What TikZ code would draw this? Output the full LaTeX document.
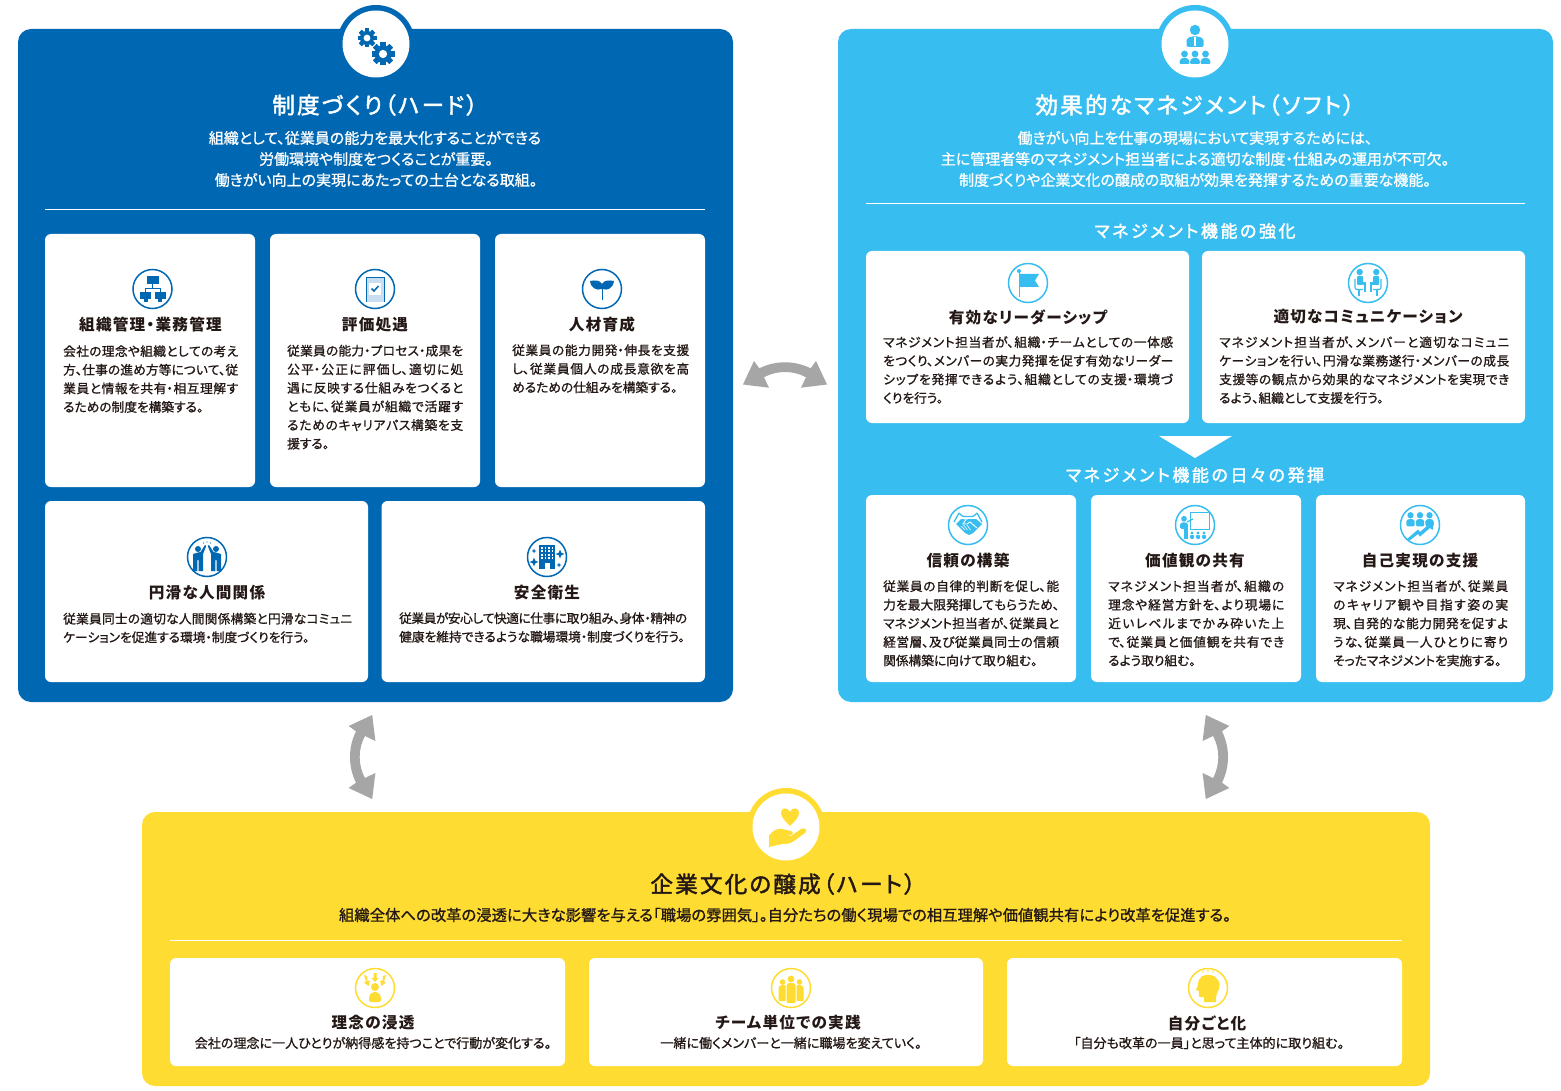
\documentclass[tikz,border=0pt]{standalone}
\usepackage{fontspec}
\setmainfont{Noto Sans CJK JP}[RawFeature=+palt]
\newfontfamily\medf{Noto Sans CJK JP}[RawFeature=+palt,FakeBold=1.0]
\newfontfamily\titf{Noto Sans CJK JP}[RawFeature=+palt,FakeBold=2.0,LetterSpace=10]
\newfontfamily\headf{Noto Sans CJK JP}[RawFeature=+palt,FakeBold=2.0,LetterSpace=15]
\newfontfamily\capf{Noto Sans CJK JP}[RawFeature=+palt,LetterSpace=8]
\XeTeXlinebreaklocale "ja"
\XeTeXlinebreakskip=0pt plus 3pt minus 0.6pt
\tolerance=9999
\emergencystretch=2pt
\definecolor{hardc}{HTML}{0068B3}
\definecolor{softc}{HTML}{38BDF0}
\definecolor{heartc}{HTML}{FFDC32}
\definecolor{inkc}{HTML}{231815}
\definecolor{arrowc}{HTML}{A6A6A6}
\definecolor{paperc}{HTML}{C9DDF0}
\tikzset{
  panelbox/.style={inner sep=0pt,rounded corners=13pt,draw=none},
  cardbox/.style={inner sep=0pt,rounded corners=6pt,fill=white,draw=none},
  ringbox/.style={circle,draw=#1,line width=1.5pt,minimum size=39pt,inner sep=0pt,fill=white},
  tabouter/.style={circle,fill=#1,minimum size=78pt,inner sep=0pt},
  tabinner/.style={circle,fill=white,minimum size=67pt,inner sep=0pt},
  bigtitle/.style={anchor=center,inner sep=0pt,font=\fontsize{22.5}{25}\titf},
  leadtext/.style={anchor=center,inner sep=0pt,font=\fontsize{15}{18}\medf},
  sectiontitle/.style={anchor=center,inner sep=0pt,text=white,font=\fontsize{17}{20}\headf},
  cardtitle/.style={anchor=center,inner sep=0pt,text=inkc,font=\fontsize{15.6}{19}\capf\bfseries},
  bodytext/.style={anchor=north west,inner sep=0pt,text=inkc,align=justify,
     font=\fontsize{12.7}{18.6}\medf},
  smalltext/.style={anchor=center,inner sep=0pt,text=inkc,font=\fontsize{13.05}{16}\medf},
  rulew/.style={draw=white,line width=0.8pt},
}
\newcommand\bstart{\rule{0pt}{11pt}}
\newcommand\LB{\linebreak}
% name x1 y1 x2 y2
\newcommand\cardnode[5]{\node[cardbox,minimum width={(#4-#2)*1pt},minimum height={(#5-#3)*1pt}] (#1) at ({(#2+#4)/2},{(#3+#5)/2}) {};}
\newcommand\panelnode[6]{\node[panelbox,fill=#6,minimum width={(#4-#2)*1pt},minimum height={(#5-#3)*1pt}] (#1) at ({(#2+#4)/2},{(#3+#5)/2}) {};}
% name x y-first width text
\newcommand\bodynode[5]{\node[bodytext,text width=#4pt] (#1) at (#2,{#3-6.2}) {\bstart #5\par};}
\newcommand\pers[3]{\begin{scope}[shift={(#1,#2)},scale=#3]
  \fill (0,-5.5) circle (3);
  \fill[rounded corners=1.2pt] (-4,5) -- (-4,-0.6) -- (-2,-1.8) -- (2,-1.8) -- (4,-0.6) -- (4,5) -- cycle;
\end{scope}}
\newcommand\gearshape[3]{\begin{scope}[shift={(#1,#2)},scale=#3]
  \foreach \a in {0,45,...,315}{\fill[rotate=\a] (-0.22,-1) rectangle (0.22,1);}
  \fill (0,0) circle (0.74);
  \fill[white] (0,0) circle (0.36);
\end{scope}}
\newcommand\sparkle[3]{\fill (#1,{#2-#3}) -- ({#1+0.28*#3},{#2-0.28*#3}) -- ({#1+#3},#2) -- ({#1+0.28*#3},{#2+0.28*#3}) -- (#1,{#2+#3}) -- ({#1-0.28*#3},{#2+0.28*#3}) -- ({#1-#3},#2) -- ({#1-0.28*#3},{#2-0.28*#3}) -- cycle;}
\newcommand\bendarrow[1]{\fill[arrowc,#1] (-42,10.5) -- (-31,-13) -- (-25.7,-5.7)
   .. controls (-17,-10) and (-8,-11.7) .. (0,-11.7)
   .. controls (8,-11.7) and (17,-10) .. (25.7,-5.7)
   -- (31,-13) -- (42,10.5) -- (16,13.7) -- (21,3.3)
   .. controls (14,-0.5) and (7,-2) .. (0,-2)
   .. controls (-7,-2) and (-14,-0.5) .. (-21,3.3)
   -- (-16,13.7) -- cycle;}
\begin{document}
\begin{tikzpicture}[x=1pt,y=-1pt]
\useasboundingbox (0,0) rectangle (1561,1091);
\fill[white] (0,0) rectangle (1561,1091);

% ---------- tabs and panels
\node[tabouter=hardc] (tabA) at (376,44) {};
\node[tabouter=softc] (tabB) at (1195,44) {};
\node[tabouter=heartc] (tabC) at (786,827) {};
\panelnode{hard}{18}{29}{733}{702}{hardc}
\panelnode{soft}{838}{29}{1553}{702}{softc}
\panelnode{heart}{142}{812}{1430}{1086}{heartc}
\node[tabinner] (tabAin) at (376,44) {};
\node[tabinner] (tabBin) at (1195,44) {};
\node[tabinner] (tabCin) at (786,827) {};

% tab icons
\begin{scope}[color=hardc]
  \gearshape{367}{38}{9.5}
  \gearshape{383}{54}{11.5}
\end{scope}
\begin{scope}[color=softc,shift={(1195,44)}]
  \fill (0,-14) circle (5.2);
  \fill[rounded corners=1.5pt] (-8.5,3) -- (-8.5,-5) -- (-4,-7.5) -- (4,-7.5) -- (8.5,-5) -- (8.5,3) -- cycle;
  \fill[white] (-0.8,-7) rectangle (0.8,2);
  \foreach \u in {-10.5,0,10.5}{
    \fill (\u,10) circle (3.4);
    \fill[rounded corners=1pt] ({\u-4.8},20) -- ({\u-4.8},16.5) -- ({\u-2.5},14) -- ({\u+2.5},14) -- ({\u+4.8},16.5) -- ({\u+4.8},20) -- cycle;}
\end{scope}
\begin{scope}[color=heartc,shift={(786,827)}]
  \fill (4,-1) .. controls (-1,-6) and (-5,-10) .. (-5,-14) .. controls (-5,-20) and (2,-20) .. (4,-15) .. controls (6,-20) and (13,-20) .. (13,-14) .. controls (13,-10) and (9,-6) .. (4,-1) -- cycle;
  \fill (-17,20) -- (-17,9) .. controls (-14,4) and (-9,1) .. (-4,2) -- (5,4) .. controls (8,5) and (7,8) .. (4,8) -- (-1,8) -- (5,9) -- (15,2) .. controls (19,0) and (22,3) .. (19,6) -- (8,14) .. controls (4,17) and (0,17) .. (-4,17) -- cycle;
\end{scope}

% ---------- HARD panel text
\node[bigtitle,text=white] (hardT) at (375,105) {制度づくり（ハード）};
\node[leadtext,text=white] (hardL1) at (375,138) {組織として、従業員の能力を最大化することができる};
\node[leadtext,text=white] (hardL2) at (376,159) {労働環境や制度をつくることが重要。};
\node[leadtext,text=white] (hardL3) at (376,180) {働きがい向上の実現にあたっての土台となる取組。};
\coordinate (hr1a) at (45,209); \coordinate (hr1b) at (705,209);
\draw[rulew] (hr1a) -- (hr1b);

\cardnode{h1}{45}{234}{255}{487}
\cardnode{h2}{270}{234}{480}{487}
\cardnode{h3}{495}{234}{705}{487}
\cardnode{h4}{45}{501}{368}{682}
\cardnode{h5}{381.5}{501}{705}{682}

\node[ringbox=hardc] (ih1) at (152.5,289) {};
\node[ringbox=hardc] (ih2) at (375,289) {};
\node[ringbox=hardc] (ih3) at (602,289) {};
\node[ringbox=hardc] (ih4) at (207,557) {};
\node[ringbox=hardc] (ih5) at (547,557) {};

\begin{scope}[color=hardc,shift={(152.5,289)}]
  \fill (-6,-13) rectangle (6,-5);
  \fill (-13,3) rectangle (-2,10);
  \fill (2,3) rectangle (13,10);
  \fill (-9,10) rectangle (-5,13);
  \fill (5,10) rectangle (9,13);
  \draw[line width=0.7pt] (0,-5) -- (0,-1) (-7.5,3) -- (-7.5,-1) -- (7.5,-1) -- (7.5,3);
\end{scope}
\begin{scope}[color=hardc,shift={(375,289)}]
  \fill[paperc] (-9,-12) rectangle (9,13);
  \draw[line width=0.7pt] (-9,13) -- (-9,-12) -- (9,-12) -- (9,13);
  \fill[white] (-6,-6) rectangle (6,6);
  \draw[line width=1.5pt] (-3.5,-0.5) -- (-1,2) -- (3.5,-3);
\end{scope}
\begin{scope}[color=hardc,shift={(602,289)}]
  \draw[line width=1pt] (0,-3) -- (0,11);
  \fill (0,0) .. controls (-6,2) and (-11,-1) .. (-12,-8) .. controls (-7,-9) and (-2,-9) .. (0,-5) -- cycle;
  \fill (0,0) .. controls (6,2) and (11,-1) .. (12,-8) .. controls (7,-9) and (2,-9) .. (0,-5) -- cycle;
\end{scope}
\begin{scope}[color=hardc,shift={(207,557)}]
  \fill (-9,-8) circle (3);
  \fill (9,-8) circle (3);
  \fill (-14,-3) -- (-9,-4.5) -- (-6.5,-5) -- (-2,-12) -- (-0.8,-11) -- (-4,-3) -- (-4,14) -- (-8.4,14) -- (-8.4,3) -- (-9.6,3) -- (-9.6,14) -- (-14,14) -- cycle;
  \fill (14,-3) -- (9,-4.5) -- (6.5,-5) -- (2,-12) -- (0.8,-11) -- (4,-3) -- (4,14) -- (8.4,14) -- (8.4,3) -- (9.6,3) -- (9.6,14) -- (14,14) -- cycle;
  \fill (0,-15) circle (0.7) (-3.5,-14) circle (0.7) (3.5,-14) circle (0.7);
\end{scope}
\begin{scope}[color=hardc,shift={(547,557)}]
  \fill (-8,-12) rectangle (8,12);
  \foreach \u in {-5,-1.5,2,5.5}{\foreach \v in {-9.5,-6,-2.5,1}{\fill[white] ({\u-1},{\v-1}) rectangle ({\u+0.6},{\v+1});}}
  \fill[white] (-2.5,6) rectangle (2.5,12);
  \sparkle{13}{-3}{4.5}
  \sparkle{-13}{5}{4.5}
  \sparkle{-13}{-6}{2.5}
  \sparkle{12}{8}{2.5}
\end{scope}

\node[cardtitle] (h1t) at (150.5,325) {組織管理・業務管理};
\bodynode{h1b}{63}{351}{175}{会社の理念や組織としての考え\LB 方、仕事の進め方等について、従\LB 業員と情報を共有・相互理解す\LB るための制度を構築する。}
\node[cardtitle] (h2t) at (375,325) {評価処遇};
\bodynode{h2b}{287}{350.5}{176}{従業員の能力・プロセス・成果を\LB 公平・公正に評価し、適切に処\LB 遇に反映する仕組みをつくると\LB ともに、従業員が組織で活躍す\LB るためのキャリアパス構築を支\LB 援する。}
\node[cardtitle] (h3t) at (602,325) {人材育成};
\bodynode{h3b}{512}{350}{177}{従業員の能力開発・伸長を支援\LB し、従業員個人の成長意欲を高\LB めるための仕組みを構築する。}
\node[cardtitle] (h4t) at (207,593) {円滑な人間関係};
\bodynode{h4b}{63}{618.5}{289}{従業員同士の適切な人間関係構築と円滑なコミュニ\LB ケーションを促進する環境・制度づくりを行う。}
\node[cardtitle] (h5t) at (547,593) {安全衛生};
\bodynode{h5b}{399}{618}{288}{従業員が安心して快適に仕事に取り組み、身体・精神の\LB 健康を維持できるような職場環境・制度づくりを行う。}

% ---------- SOFT panel text
\node[bigtitle,text=white] (softT) at (1195,105) {効果的なマネジメント（ソフト）};
\node[leadtext,text=white] (softL1) at (1195,138) {働きがい向上を仕事の現場において実現するためには、};
\node[leadtext,text=white] (softL2) at (1195,159) {主に管理者等のマネジメント担当者による適切な制度・仕組みの運用が不可欠。};
\node[leadtext,text=white] (softL3) at (1195,180) {制度づくりや企業文化の醸成の取組が効果を発揮するための重要な機能。};
\coordinate (hr2a) at (866,203.5); \coordinate (hr2b) at (1525,203.5);
\draw[rulew] (hr2a) -- (hr2b);
\node[sectiontitle] (softS1) at (1195,231) {マネジメント機能の強化};
\cardnode{s1}{866}{251}{1189}{423}
\cardnode{s2}{1202}{251}{1525}{423}
\coordinate (ta) at (1159,436); \coordinate (tb) at (1232,436); \coordinate (tc) at (1195,458);
\fill[white] (ta) -- (tb) -- (tc) -- cycle;
\node[sectiontitle] (softS2) at (1195,475) {マネジメント機能の日々の発揮};
\cardnode{s3}{866}{495}{1076}{682}
\cardnode{s4}{1091}{495}{1301}{682}
\cardnode{s5}{1316}{495}{1525}{682}

\node[ringbox=softc] (is1) at (1028,283) {};
\node[ringbox=softc] (is2) at (1368,283) {};
\node[ringbox=softc] (is3) at (968,525) {};
\node[ringbox=softc] (is4) at (1195,525) {};
\node[ringbox=softc] (is5) at (1420,525) {};

\begin{scope}[color=softc,shift={(1028,283)}]
  \draw[line width=1pt] (-9,-12) -- (-9,14);
  \fill (-9,-12) circle (2);
  \fill (-8,-9) -- (11,-9) -- (7,-2.5) -- (11,4) -- (-8,4) -- cycle;
\end{scope}
\begin{scope}[color=softc,shift={(1368,283)}]
  \fill (-8.3,-11) circle (3.2);
  \fill (8.3,-11) circle (3.2);
  \fill[rounded corners=1pt] (-11,-7) rectangle (-5,2);
  \fill[rounded corners=1pt] (5,-7) rectangle (11,2);
  \fill (-5.5,-1) rectangle (-2,2);
  \fill (2,-1) rectangle (5.5,2);
  \fill (-4,1) rectangle (-1.6,9);
  \fill (1.6,1) rectangle (4,9);
  \draw[line width=1.1pt,rounded corners=2pt] (-13,-4) -- (-13,6.5) -- (-5,6.5) (13,-4) -- (13,6.5) -- (5,6.5);
  \draw[line width=1.1pt] (-9,6.5) -- (-9,13) (9,6.5) -- (9,13);
\end{scope}
\begin{scope}[color=softc,shift={(968,525)}]
  \draw[line width=1.3pt] (-9,-12) .. controls (-6,-8) and (-3,-8) .. (0,-8.5) .. controls (3,-8) and (6,-8) .. (9,-12);
  \draw[line width=1.3pt] (-9,-12) -- (-14,-3) (9,-12) -- (14,-3);
  \fill (-12,-1) -- (-7,-6) -- (-2,-5.5) -- (2,-6) -- (8,-6) -- (14,-1) -- (5,8) -- (1,10) -- (-3,8) -- cycle;
  \draw[white,line width=0.9pt] (-2,-5.5) -- (-5,-1) -- (-1,-1) -- (2,-3) -- (9,3);
  \draw[white,line width=0.6pt] (-7,1) -- (-3,5) (-4.5,0) -- (-0.5,5) (-1,0) -- (2.5,5);
\end{scope}
\begin{scope}[color=softc,shift={(1195,525)}]
  \draw[line width=1pt] (-5,-13) rectangle (14,4);
  \pers{-11}{-1}{0.95}
  \fill (-11,3) rectangle (-7.5,14);
  \draw[line width=1.2pt] (-8,-3) -- (-2,-6);
  \foreach \u in {-3,3,9}{\pers{\u}{11}{0.55}}
\end{scope}
\begin{scope}[color=softc,shift={(1420,525)}]
  \foreach \u in {-9.5,0,9.5}{\pers{\u}{-4}{1.05}}
  \fill (-13,14) -- (-2,4.5) -- (0,7) -- (8,0) -- (5.5,-2) -- (14,-3) -- (12.5,5) -- (10,3) -- (0,11.5) -- (-2,9) -- (-11,16) -- cycle;
\end{scope}

\node[cardtitle] (s1t) at (1028,317) {有効なリーダーシップ};
\bodynode{s1b}{883}{342}{290}{マネジメント担当者が、組織・チームとしての一体感\LB をつくり、メンバーの実力発揮を促す有効なリーダー\LB シップを発揮できるよう、組織としての支援・環境づ\LB くりを行う。}
\node[cardtitle] (s2t) at (1368,317) {適切なコミュニケーション};
\bodynode{s2b}{1219}{342}{290}{マネジメント担当者が、メンバーと適切なコミュニ\LB ケーションを行い、円滑な業務遂行・メンバーの成長\LB 支援等の観点から効果的なマネジメントを実現でき\LB るよう、組織として支援を行う。}
\node[cardtitle] (s3t) at (968,561) {信頼の構築};
\bodynode{s3b}{883}{586}{176}{従業員の自律的判断を促し、能\LB 力を最大限発揮してもらうため、\LB マネジメント担当者が、従業員と\LB 経営層、及び従業員同士の信頼\LB 関係構築に向けて取り組む。}
\node[cardtitle] (s4t) at (1195,561) {価値観の共有};
\bodynode{s4b}{1108}{586}{176}{マネジメント担当者が、組織の\LB 理念や経営方針を、より現場に\LB 近いレベルまでかみ砕いた上\LB で、従業員と価値観を共有でき\LB るよう取り組む。}
\node[cardtitle] (s5t) at (1420,561) {自己実現の支援};
\bodynode{s5b}{1333}{586}{175}{マネジメント担当者が、従業員\LB のキャリア観や目指す姿の実\LB 現、自発的な能力開発を促すよ\LB うな、従業員一人ひとりに寄り\LB そったマネジメントを実施する。}

% ---------- HEART panel text
\node[bigtitle,text=inkc] (heartT) at (783,884) {企業文化の醸成（ハート）};
\node[leadtext,text=inkc,font=\fontsize{15.35}{18}\medf] (heartL) at (785,915) {組織全体への改革の浸透に大きな影響を与える「職場の雰囲気」。自分たちの働く現場での相互理解や価値観共有により改革を促進する。};
\coordinate (hr3a) at (170,940); \coordinate (hr3b) at (1402,940);
\draw[draw=white,line width=0.8pt] (hr3a) -- (hr3b);
\cardnode{y1}{170}{958}{565}{1066}
\cardnode{y2}{589}{958}{983}{1066}
\cardnode{y3}{1007}{958}{1402}{1066}
\node[ringbox=heartc] (iy1) at (375,988) {};
\node[ringbox=heartc] (iy2) at (791,988) {};
\node[ringbox=heartc] (iy3) at (1208,988) {};

\begin{scope}[color=heartc,shift={(375,988)}]
  \fill (0,-1) circle (4);
  \fill[rounded corners=2pt] (-6,14) -- (-6,8) -- (-3,4) -- (3,4) -- (6,8) -- (6,14) -- cycle;
  \fill (-11,-13) -- (-8,-12) -- (-7.5,-7) -- (-5,-7.5) -- (-6.5,-2) -- (-11,-5.5) -- (-9,-6.5) -- cycle;
  \fill (11,-13) -- (8,-12) -- (7.5,-7) -- (5,-7.5) -- (6.5,-2) -- (11,-5.5) -- (9,-6.5) -- cycle;
  \fill (-1.5,-15) -- (1.5,-15) -- (1.5,-10) -- (3.5,-10) -- (0,-6) -- (-3.5,-10) -- (-1.5,-10) -- cycle;
\end{scope}
\begin{scope}[color=heartc,shift={(791,988)}]
  \fill (-8.5,-6) circle (2.8);
  \fill (8.5,-6) circle (2.8);
  \fill[rounded corners=1pt] (-12.5,13) -- (-12.5,-1) -- (-10,-3) -- (-5.5,-3) -- (-5.5,13) -- cycle;
  \fill[rounded corners=1pt] (12.5,13) -- (12.5,-1) -- (10,-3) -- (5.5,-3) -- (5.5,13) -- cycle;
  \fill (0,-9) circle (3.4);
  \fill[rounded corners=1pt] (-4.5,15) -- (-4.5,-3.5) -- (-2.5,-5) -- (2.5,-5) -- (4.5,-3.5) -- (4.5,15) -- cycle;
\end{scope}
\begin{scope}[color=heartc,shift={(1208,988)}]
  \fill (-10,-3) .. controls (-10,-12) and (-3,-14) .. (2,-13) .. controls (10,-12) and (13,-5) .. (11,1) .. controls (10,4) and (8,6) .. (8,9) -- (8,14) -- (-4,14) -- (-4,9) -- (-8,9) .. controls (-10,9) and (-9,5) .. (-9,3) -- (-12,2) -- cycle;
  \fill (0,-17) circle (0.9) (-5,-16) circle (0.9) (5,-16) circle (0.9);
\end{scope}

\node[cardtitle] (y1t) at (373,1023) {理念の浸透};
\node[smalltext] (y1b) at (373,1043) {会社の理念に一人ひとりが納得感を持つことで行動が変化する。};
\node[cardtitle] (y2t) at (788,1023) {チーム単位での実践};
\node[smalltext] (y2b) at (791,1043) {一緒に働くメンバーと一緒に職場を変えていく。};
\node[cardtitle] (y3t) at (1207,1023) {自分ごと化};
\node[smalltext] (y3b) at (1209,1043) {「自分も改革の一員」と思って主体的に取り組む。};

% ---------- bend arrows
\coordinate (arrH) at (785,374);
\coordinate (arrL) at (361.7,757);
\coordinate (arrR) at (1216.3,757);
\bendarrow{shift={(arrH)}}
\bendarrow{shift={(arrL)},rotate=90}
\bendarrow{shift={(arrR)},rotate=-90}
\end{tikzpicture}
\end{document}
